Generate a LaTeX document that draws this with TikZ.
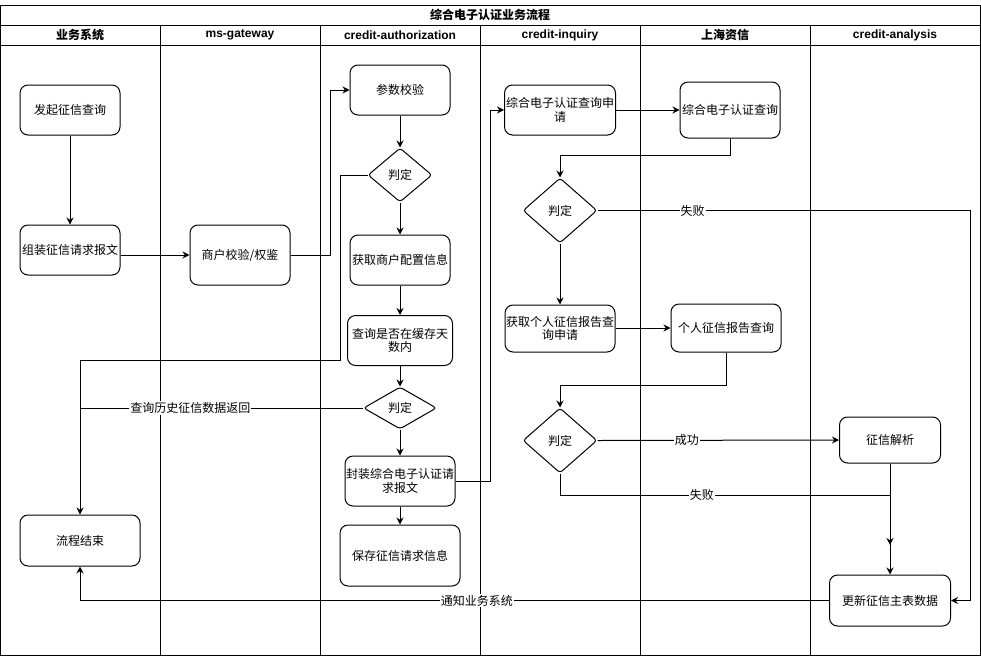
\documentclass[tikz,border=0pt]{standalone}
\usepackage{fontspec}
\setmainfont{Liberation Sans}
\newfontfamily\cjk{Noto Sans CJK SC}
\usetikzlibrary{shapes.geometric,arrows.meta}
\begin{document}
\begin{tikzpicture}[x=1pt,y=-1pt,
  every node/.style={text=black},
  frame/.style={line width=1pt},
  head/.style={font=\bfseries\fontsize{12}{14}\selectfont},
  headc/.style={font=\cjk\bfseries\fontsize{12}{14}\selectfont},
  box/.style={draw, line width=1pt, rounded corners=8pt, align=center, inner sep=1pt,
              font=\cjk\fontsize{12}{13.5}\selectfont},
  dia/.style={draw, line width=1pt, diamond, inner sep=0pt, rounded corners=3pt,
              font=\cjk\fontsize{12}{13.5}\selectfont},
  arr/.style={-{Stealth[length=7pt,width=7pt]}, line width=1pt},
  ln/.style={line width=1pt},
  lbl/.style={fill=white, inner sep=1pt, font=\cjk\fontsize{12}{13.5}\selectfont}
]
\useasboundingbox (0,0) rectangle (981,656);
% frame and lanes
\draw[frame] (0.5,5) rectangle (980,655);
\draw[frame] (0.5,25) -- (980,25);
\draw[frame] (0.5,45) -- (980,45);
\foreach \xx in {160,320,480,640,810} \draw[frame] (\xx,25) -- (\xx,655);
\node[headc] (title) at (490,15) {综合电子认证业务流程};
\node[headc] (h1) at (80,35) {业务系统};
\node[head] (h2) at (240,35) {ms-gateway};
\node[head] (h3) at (400,35) {credit-authorization};
\node[head] (h4) at (560,35) {credit-inquiry};
\node[headc] (h5) at (725,35) {上海资信};
\node[head] (h6) at (895,35) {credit-analysis};

% nodes
\node[box, minimum width=100pt, minimum height=50pt] (fq) at (70,110) {发起征信查询};
\node[box, minimum width=100pt, minimum height=50pt] (zz) at (70,250) {组装征信请求报文};
\node[box, minimum width=100pt, minimum height=60pt] (sh) at (240,255) {商户校验/权鉴};
\node[box, minimum width=100pt, minimum height=50pt] (cs) at (400,90) {参数校验};
\node[dia, minimum width=64pt, minimum height=54pt] (pd1) at (400,175) {判定};
\node[box, minimum width=100pt, minimum height=50pt] (hq) at (400,260) {获取商户配置信息};
\node[box, minimum width=105pt, minimum height=50pt] (cx) at (400,340.5) {查询是否在缓存天\\数内};
\node[dia, minimum width=73pt, minimum height=42pt] (pd2) at (400,408) {判定};
\node[box, minimum width=110pt, minimum height=50pt] (fz) at (400,481) {封装综合电子认证请\\求报文};
\node[box, minimum width=120pt, minimum height=61pt] (bc) at (400,555.5) {保存征信请求信息};
\node[box, minimum width=120pt, minimum height=51pt] (end) at (80,540.5) {流程结束};
\node[box, minimum width=111pt, minimum height=50pt] (sq) at (560,110) {综合电子认证查询申\\请};
\node[box, minimum width=100pt, minimum height=56pt] (zx) at (730,110) {综合电子认证查询};
\node[dia, minimum width=74pt, minimum height=65pt] (pd3) at (560,210.5) {判定};
\node[box, minimum width=109pt, minimum height=47pt] (gs) at (560,328.5) {获取个人征信报告查\\询申请};
\node[box, minimum width=110pt, minimum height=48pt] (gr) at (726,328) {个人征信报告查询};
\node[dia, minimum width=74pt, minimum height=65pt] (pd4) at (560,440.5) {判定};
\node[box, minimum width=101pt, minimum height=46pt] (jx) at (890,440) {征信解析};
\node[box, minimum width=121pt, minimum height=51pt] (gx) at (890,600.5) {更新征信主表数据};

% helper coordinates
\coordinate (k1) at (340,360.5);
\coordinate (k3) at (970,210.5);
\coordinate (k4) at (560,495);
\coordinate (k5) at (890,495);
\coordinate (k6) at (890,545);

% connectors
\draw[arr] (fq) -- (zz);
\draw[arr] (zz.east |- sh.west) -- (sh.west);
\draw[arr] (sh.east) -- ++(40,0) |- (cs.west);
\draw[arr] (cs) -- (pd1);
\draw[arr] (pd1) -- (hq);
\draw[arr] (pd1.west) -| (k1) -| (end.north);
\draw[arr] (hq) -- (cx);
\draw[arr] (cx) -- (pd2);
\draw[ln] (pd2.west) -- node[lbl, pos=0.61] {查询历史征信数据返回} (end.north |- pd2.west);
\draw[arr] (pd2) -- (fz);
\draw[arr] (fz.east) -- ++(34.5,0) |- (sq.west);
\draw[arr] (fz) -- (bc);
\draw[arr] (sq) -- (zx);
\draw[arr] (zx.south) -- ++(0,17) -| (pd3.north);
\draw[arr] (pd3) -- (gs);
\draw[arr] (pd3.east) -- node[lbl, pos=0.255] {失败} (k3) |- (gx.east);
\draw[arr] (gs.east |- gr.west) -- (gr.west);
\draw[arr] (gr.south) -- ++(0,33) -| (pd4.north);
\draw[arr] (pd4.east) -- node[lbl, pos=0.37] {成功} (jx.west);
\draw[arr] (pd4.south) -- (k4) -- node[lbl, pos=0.43] {失败} (k5) -- (gx.north);
\draw[arr] (jx.south) -- (k6);
\draw[arr] (gx.west) -| node[lbl, pos=0.235] {通知业务系统} (end.south);
\end{tikzpicture}
\end{document}
